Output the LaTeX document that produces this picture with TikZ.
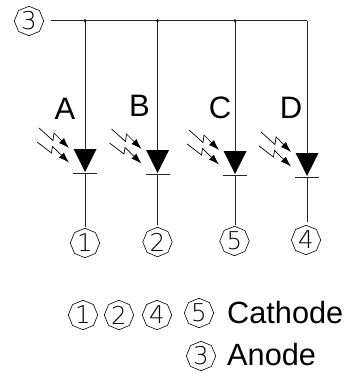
\documentclass[tikz,border=0pt]{standalone}
\usepackage{fontspec}
\setmainfont{Liberation Sans}
\newfontfamily\thinfont{DejaVu Sans ExtraLight}
\usetikzlibrary{shapes.geometric,arrows.meta}
\tikzset{
  wire/.style={line width=0.9pt,draw=black!85},
  num/.style={regular polygon,regular polygon sides=8,shape border rotate=22.5,draw=black,line width=0.6pt,
    minimum size=29.5pt,inner sep=0pt,font=\thinfont\fontsize{24.5}{24.5}\selectfont},
  letter/.style={font=\fontsize{31}{31}\selectfont,inner sep=0pt},
  caption/.style={font=\fontsize{30.7}{31}\selectfont,inner sep=0pt,anchor=base west},
  ray/.style={line width=0.7pt,-{Latex[length=10.5pt,width=7pt]}},
  dot/.style={circle,fill=black,inner sep=0pt,minimum size=3.2pt},
}
\newcommand{\ledsym}[5]{% name, x, tip y, stem end y, circle node
  \coordinate (#1top) at (#2,#3-23);
  \coordinate (#1tip) at (#2,#3);
  \fill (#2-11.5,#3-23) -- (#2+11.5,#3-23) -- (#2,#3) -- cycle;
  \draw[wire] (#2-12,#3+1) -- (#2+12,#3+1);
  \draw[wire] (#2,#3+1) -- (#2,#4);
  \draw[ray] (#2-46,#3-44) -- (#2-32,#3-31.5) -- (#2-31,#3-39) -- (#2-16,#3-24);
  \draw[ray] (#2-48,#3-30) -- (#2-33.5,#3-19) -- (#2-32.5,#3-25.5) -- (#2-16,#3-9.5);
}
\begin{document}
\begin{tikzpicture}[x=1pt,y=-1pt]
\useasboundingbox (0,0) rectangle (353,374);
\node[num] (n3top) at (29,21) {3};
\coordinate (busend) at (307,20.7);
\coordinate (busstart) at (50.5,20.7);
\node[dot] (ja) at (85,20.7) {};
\node[dot] (jb) at (157.5,20.7) {};
\node[dot] (jc) at (235,20.7) {};
\draw[wire] (busstart) -- (busend);
\ledsym{a}{85}{172}{227}{}
\ledsym{b}{157.5}{173}{225}{}
\ledsym{c}{235}{174}{225}{}
\ledsym{d}{307}{176}{222}{}
\draw[wire] (ja) -- (atop);
\draw[wire] (jb) -- (btop);
\draw[wire] (jc) -- (ctop);
\draw[wire] (busend) -- (dtop);
\node[num] (n1) at (85,243) {1};
\node[num] (n2) at (157.5,242) {2};
\node[num] (n5) at (234.5,241) {5};
\node[num] (n4) at (306,240) {4};
\node[letter] (la) at (65,108.5) {A};
\node[letter] (lb) at (139.5,106) {B};
\node[letter] (lc) at (220,108) {C};
\node[letter] (ld) at (291,108) {D};
\node[num] (k1) at (83,315) {1};
\node[num] (k2) at (119,315) {2};
\node[num] (k4) at (157,315) {4};
\node[num] (k5) at (199,313) {5};
\node[num] (k3) at (201,356) {3};
\node[caption] (cath) at (227,323) {Cathode};
\node[caption] (an) at (227,365) {Anode};
\end{tikzpicture}
\end{document}
